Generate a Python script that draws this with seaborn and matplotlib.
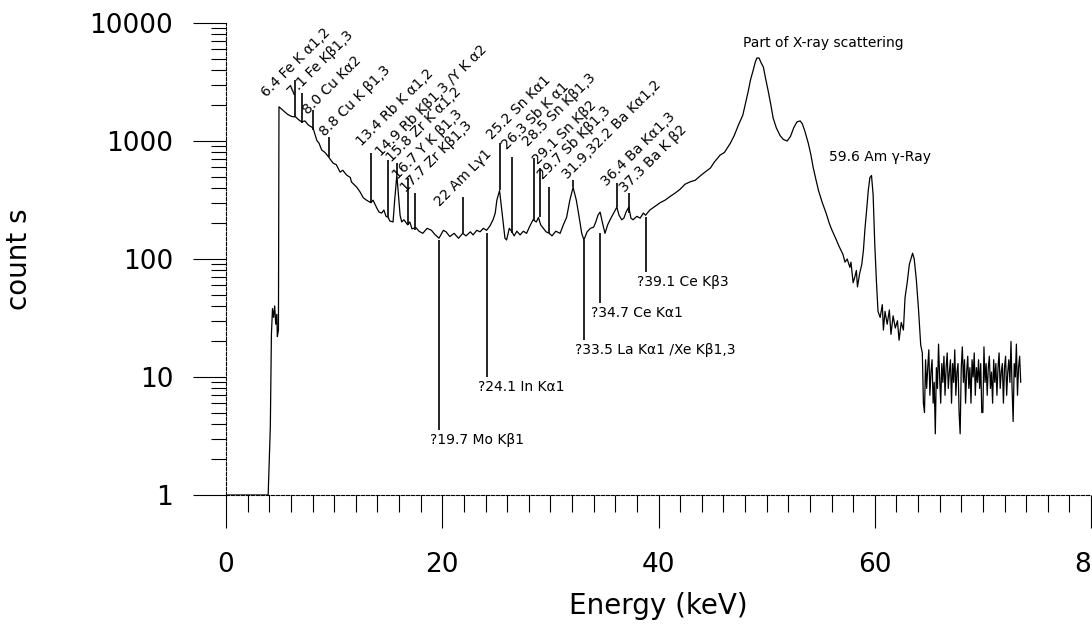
import pandas as pd
import seaborn as sns
import matplotlib.pyplot as plt
from matplotlib.ticker import LogLocator, MultipleLocator, NullFormatter

# spectrum (energy in keV, counts)
energy = [0.0, 3.9, 4.0, 4.1, 4.2, 4.3, 4.4, 4.5, 4.6, 4.7, 4.75, 4.85, 4.9,
          5.27, 5.7, 6.1, 6.45, 6.66, 7.0, 7.3, 7.6, 8.05, 8.4, 8.6, 8.85, 9.15, 9.5,
          9.9, 10.2, 10.55, 10.8, 11.15, 11.5, 11.6, 12.1, 12.4, 12.7, 13.0, 13.4, 13.6,
          13.95, 14.15, 14.4, 14.6, 14.8, 15.0, 15.15, 15.45, 15.6, 15.8, 15.95, 16.1,
          16.25, 16.45, 16.8, 17.0, 17.2, 17.55, 17.85, 18.2, 18.6, 19.0, 19.3, 19.7,
          20.1, 20.35, 20.7, 21.1, 21.5, 21.9, 22.2, 22.6, 22.85, 23.2, 23.5, 23.8, 24.1,
          24.4, 24.7, 24.9, 25.05, 25.3, 25.4, 25.65, 25.8, 25.95, 26.2, 26.45, 26.65,
          26.9, 27.2, 27.5, 27.8, 28.1, 28.4, 28.7, 28.9, 29.1, 29.35, 29.6, 29.9, 30.15,
          30.5, 30.9, 31.2, 31.5, 31.8, 32.1, 32.4, 32.6, 32.9, 33.1, 33.4, 33.7, 34.0,
          34.2, 34.4, 34.6, 34.8, 35.05, 35.3, 35.6, 35.9, 36.15, 36.35, 36.6, 36.8,
          37.0, 37.25, 37.45, 37.65, 38.0, 38.3, 38.6, 38.8, 39.2, 39.7, 40.15, 40.6,
          41.1, 41.5, 42.0, 42.45, 42.9, 43.4, 43.85, 44.3, 44.8, 45.15, 45.7, 46.1,
          46.65, 47.0, 47.4, 47.8, 48.0, 48.3, 48.5, 48.75, 48.95, 49.1, 49.3, 49.5,
          49.7, 49.9, 50.15, 50.4, 50.6, 50.9, 51.25, 51.55, 51.9, 52.2, 52.5, 52.8,
          53.1, 53.3, 53.55, 53.85, 54.1, 54.3, 54.55, 54.8, 55.15, 55.5, 55.8, 56.05,
          56.45, 56.7, 57.05, 57.25, 57.45, 57.7, 57.8, 58.0, 58.15, 58.3, 58.4, 58.6,
          58.8, 58.95, 59.1, 59.25, 59.4, 59.55, 59.7, 59.85, 60.0, 60.15, 60.3, 60.5,
          60.7, 60.8, 60.95, 61.15, 61.35, 61.5, 61.7, 61.9, 62.1, 62.25, 62.45, 62.65,
          62.8, 63.0, 63.2, 63.4, 63.5, 63.65, 63.85, 64.05, 64.25,
          64.4, 64.5, 64.6, 64.7, 64.8, 64.9, 65.0, 65.1, 65.2, 65.3, 65.4, 65.5, 65.6,
          65.7, 65.8, 65.9, 66.0, 66.1, 66.2, 66.3, 66.4, 66.5, 66.6, 66.7, 66.8, 66.9,
          67.0, 67.1, 67.2, 67.3, 67.4, 67.5, 67.6, 67.7, 67.8, 67.9, 68.0, 68.1, 68.2,
          68.3, 68.4, 68.5, 68.6, 68.7, 68.8, 68.9, 69.0, 69.1, 69.2, 69.3, 69.4, 69.5,
          69.6, 69.7, 69.8, 69.9, 70.0, 70.1, 70.2, 70.3, 70.4, 70.5, 70.6, 70.7, 70.8,
          70.9, 71.0, 71.1, 71.2, 71.3, 71.4, 71.5, 71.6, 71.7, 71.8, 71.9, 72.0, 72.1,
          72.2, 72.3, 72.4, 72.5, 72.6, 72.7, 72.8, 72.9, 73.0, 73.1, 73.2, 73.3, 73.4,
          73.5]
counts = [1, 1, 2.0, 3.8, 23, 38, 32, 40, 28, 34, 22, 25, 1950,
          1820, 1680, 1610, 1600, 1530, 1450, 1480, 1370, 1290, 1010, 960, 840, 800, 730,
          650, 630, 545, 565, 515, 490, 450, 405, 370, 330, 315, 300, 315,
          270, 250, 245, 260, 230, 225, 210, 206, 315, 515, 350, 235,
          206, 215, 195, 206, 180, 185, 172, 165, 182, 175, 162, 150,
          175, 170, 155, 165, 150, 165, 157, 170, 160, 175, 170, 182, 175,
          190, 215, 245, 315, 380, 315, 195, 150, 145, 182, 170, 157,
          172, 160, 172, 165, 190, 215, 206, 225, 195, 182, 170, 165, 157,
          172, 165, 195, 225, 315, 405, 315, 245, 165, 145, 170, 182, 186,
          206, 235, 250, 206, 165, 195, 222, 250, 275, 235, 215, 222,
          250, 275, 222, 215, 230, 222, 245, 235, 260, 280, 300, 315,
          340, 360, 390, 430, 450, 465, 505, 545, 590, 660, 760, 800,
          960, 1110, 1370, 1660, 2000, 2640, 3270, 3960, 4660, 5050, 5050, 4580,
          4230, 3400, 2640, 2000, 1570, 1290, 1110, 1030, 1000, 1090, 1290, 1450,
          1480, 1400, 1200, 960, 760, 600, 475, 380, 300, 245, 200, 175,
          145, 128, 110, 94, 100, 85, 94, 63, 70, 80, 58, 75,
          90, 118, 183, 260, 380, 490, 510, 350, 135, 66, 36, 32,
          41, 25, 36, 28, 37, 23, 33, 26, 30, 20.5, 29, 25,
          47, 63, 90, 104, 112, 100, 66, 37, 18.7,
          16, 6, 5, 14, 8, 12, 17, 7, 11, 14, 6, 9, 3.3,
          12, 8, 19, 10, 6, 13, 9, 15, 7, 12, 16, 8, 11,
          14, 6, 13, 9, 17, 7, 11, 13, 5, 3.3, 12, 18, 9,
          14, 6, 11, 15, 8, 12, 6, 14, 10, 16, 7, 12, 9,
          14, 8, 13, 5, 5, 18, 9, 13, 7, 12, 15, 8, 11,
          6, 14, 9, 13, 7, 12, 16, 8, 11, 13, 6, 12, 15,
          7, 11, 14, 9, 20, 8, 4.2, 13, 10, 19, 7, 12, 15,
          9]

# lines marked above the spectrum
top_labels = ["6.4 Fe K α1,2", "7.1 Fe Kβ1,3", "8.0 Cu Kα2", "8.8 Cu K β1,3",
              "13.4 Rb K α1,2", "14.9 Rb Kβ1,3 /Y K α2", "15.8 Zr K α1,2",
              "16.7 Y K β1,3", "17.7 Zr Kβ1,3", "22 Am Lγ1", "25.2 Sn Kα1",
              "26.3 Sb K α1", "28.5 Sn Kβ1,3", "29.1 Sn Kβ2", "29.7 Sb Kβ1,3",
              "31.9,32.2 Ba Kα1,2", "36.4 Ba Kα1,3", "37.3 Ba K β2"]
top_energy = [6.4, 7.0, 8.0, 9.5, 13.4, 15.0, 15.8, 16.8, 17.5, 21.9, 25.3, 26.45,
              28.5, 29.0, 29.9, 32.1, 36.15, 37.3]
top_hi = [3290, 2550, 1830, 1080, 791, 690, 651, 486, 362, 335, 962, 731, 718, 590,
          408, 467, 441, 362]
top_lo = [1597, 1420, 1240, 731, 298, 227, 515, 194, 176, 166, 384, 166, 214, 227,
          166, 408, 276, 245]

# lines marked below the spectrum
low_labels = ["?19.7 Mo Kβ1", "?24.1 In Kα1", "?33.5 La Kα1 /Xe Kβ1,3",
              "?34.7 Ce Kα1", "?39.1 Ce Kβ3"]
low_energy = [19.7, 24.1, 33.1, 34.6, 38.8]
low_hi = [145, 166, 145, 166, 227]
low_lo = [3.56, 10.0, 20.6, 42.4, 77.6]

sns.set_theme(style="white")
plt.rcParams['font.family'] = ['DejaVu Sans']
plt.rcParams['text.color'] = 'black'
plt.rcParams['axes.labelcolor'] = 'black'

fig = plt.figure(figsize=(10.92, 6.25), dpi=100)
ax = fig.add_axes([226 / 1092, 130 / 625, 865 / 1092, 472 / 625])

df = pd.DataFrame({"Energy": energy, "counts": counts})
sns.lineplot(data=df, x="Energy", y="counts", estimator=None, sort=False,
             color="black", linewidth=0.9, ax=ax)

ax.set_yscale("log")
ax.set_xlim(0, 80)
ax.set_ylim(1, 10000)

# pointer lines + labels
text_shift = [(-29, -18), (-9, -4), (-5, -5), (-4, 0), (-9, 6), (-7, 3), (-5, 0),
              (-10, -2), (-9, 0), (-23, -10), (-8, 3), (-5, 7), (-6, 11), (-2, 3),
              (-6, 7), (-5, 0), (-10, -4), (-4, 0)]
for lab, e, hi, lo, sh in zip(top_labels, top_energy, top_hi, top_lo, text_shift):
    ax.vlines(e, lo, hi, color="black", linewidth=1.2)
    ax.annotate(lab, xy=(e, hi), xytext=sh, textcoords="offset pixels",
                rotation=45, rotation_mode="anchor", ha="left", va="baseline",
                fontsize=10)

for lab, e, hi, lo in zip(low_labels, low_energy, low_hi, low_lo):
    ax.vlines(e, lo, hi, color="black", linewidth=1.2)
    ax.annotate(lab, xy=(e, lo), xytext=(-9, -3), textcoords="offset pixels",
                ha="left", va="top", fontsize=10)

ax.text(55.2, 6760, "Part of X-ray scattering", ha="center", va="center", fontsize=10)
ax.text(55.8, 731, "59.6 Am γ-Ray", ha="left", va="center", fontsize=10)

# axes look
ax.set_yticks([1, 10, 100, 1000, 10000])
ax.set_yticklabels(["1", "10", "100", "1000", "10000"])
ax.yaxis.set_minor_locator(LogLocator(base=10, subs=range(2, 10)))
ax.yaxis.set_minor_formatter(NullFormatter())
ax.set_xticks([0, 20, 40, 60, 80])
ax.xaxis.set_minor_locator(MultipleLocator(2))

ax.tick_params(axis="both", which="both", direction="out", colors="black",
               left=True, bottom=True)
ax.tick_params(axis="y", which="major", length=24, width=0.8, pad=14, labelsize=19)
ax.tick_params(axis="y", which="minor", length=11, width=0.8)
ax.tick_params(axis="x", which="major", length=24, width=0.8, pad=17, labelsize=19)
ax.tick_params(axis="x", which="minor", length=12, width=0.8)

for s in ["top", "right"]:
    ax.spines[s].set_visible(False)
for s in ["left", "bottom"]:
    ax.spines[s].set_linestyle((0, (3, 1.5)))
    ax.spines[s].set_linewidth(0.8)
    ax.spines[s].set_color("black")

ax.set_xlabel("Energy (keV)", fontsize=20)
ax.set_ylabel("count s", fontsize=20)
ax.xaxis.set_label_coords(0.5, -0.205)
ax.yaxis.set_label_coords(-0.223, 0.5)

fig.savefig("out.png", dpi=100, facecolor="white")
